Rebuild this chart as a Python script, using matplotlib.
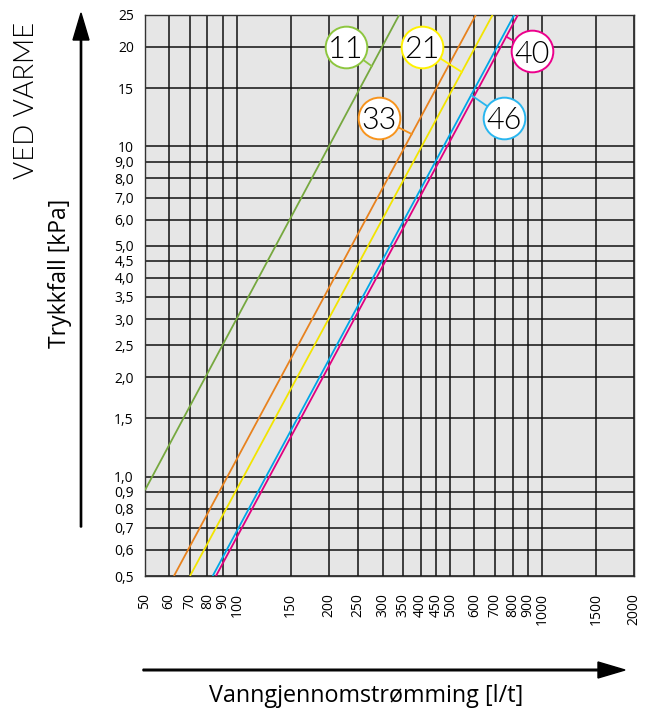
import numpy as np
import matplotlib
matplotlib.use("Agg")
import matplotlib.pyplot as plt
from matplotlib.ticker import FixedLocator, NullLocator

# ---- data ----
x_ticks = [50, 60, 70, 80, 90, 100, 150, 200, 250, 300, 350, 400, 450, 500,
           600, 700, 800, 900, 1000, 1500, 2000]
y_ticks = [0.5, 0.6, 0.7, 0.8, 0.9, 1.0, 1.5, 2.0, 2.5, 3.0, 3.5, 4.0, 4.5,
           5.0, 6.0, 7.0, 8.0, 9.0, 10, 15, 20, 25]
y_tick_labels = ["0,5", "0,6", "0,7", "0,8", "0,9", "1,0", "1,5", "2,0", "2,5",
                 "3,0", "3,5", "4,0", "4,5", "5,0", "6,0", "7,0", "8,0", "9,0",
                 "10", "15", "20", "25"]

series_names = ["11", "33", "21", "46", "40"]
# flow [l/t] and pressure drop [kPa] (two points per straight log-log line)
flow_11 = [50, 340];   dp_11 = [0.91, 25]
flow_33 = [62.2, 606]; dp_33 = [0.5, 25]
flow_21 = [70.2, 688]; dp_21 = [0.5, 25]
flow_46 = [83.3, 810]; dp_46 = [0.5, 25]
flow_40 = [85.4, 833]; dp_40 = [0.5, 25]

# ---- styles / positions ----
line_colors = {"11": "#76a83f", "33": "#e8821e", "21": "#f2e400",
               "46": "#00a6e6", "40": "#e0007f"}
ring_colors = {"11": "#8dc63f", "33": "#f7941d", "21": "#fff200",
               "46": "#29b6ef", "40": "#ec008c"}
label_pos = {"11": (227, 20.0), "33": (293, 12.2), "21": (405, 20.0),
             "46": (752, 12.2), "40": (925, 19.4)}
leader_dp = {"11": 17.5, "33": 10.9, "21": 16.8, "46": 14.3, "40": 21.5}

series = {"11": (flow_11, dp_11), "33": (flow_33, dp_33), "21": (flow_21, dp_21),
          "46": (flow_46, dp_46), "40": (flow_40, dp_40)}

THIN = dict(family=["Lato", "DejaVu Sans"], fontweight=300)

fig = plt.figure(figsize=(6.51, 7.11), dpi=100)
ax = fig.add_axes([145/651, 1-576/711, 489/651, 561/711])
ax.set_xscale("log")
ax.set_yscale("log")
ax.set_xlim(50, 2000)
ax.set_ylim(0.5, 25)
ax.set_facecolor("#e6e6e6")

ax.xaxis.set_major_locator(FixedLocator(x_ticks))
ax.xaxis.set_minor_locator(NullLocator())
ax.yaxis.set_major_locator(FixedLocator(y_ticks))
ax.yaxis.set_minor_locator(NullLocator())
ax.set_xticklabels([str(v) for v in x_ticks], rotation=90, fontsize=10,
                   family="Open Sans", va="top")
ax.set_yticklabels(y_tick_labels, fontsize=10, family="Open Sans")
ax.tick_params(axis="both", length=0, pad=8)
ax.tick_params(axis="x", pad=12)
ax.grid(True, which="major", color="#111111", linewidth=1.1)
ax.set_axisbelow(True)
for s in ax.spines.values():
    s.set_color("#333333")
    s.set_linewidth(1.0)

def flow_at(name, dp):
    f, d = series[name]
    lf, ld = np.log10(f), np.log10(d)
    t = (np.log10(dp) - ld[0]) / (ld[1] - ld[0])
    return 10 ** (lf[0] + t * (lf[1] - lf[0]))

for name in series_names:
    f, d = series[name]
    ax.plot(f, d, color=line_colors[name], lw=1.3, zorder=3, solid_capstyle="butt")

for name in series_names:
    cx, cy = label_pos[name]
    ty = leader_dp[name]
    tx = flow_at(name, ty)
    ax.plot([cx, tx], [cy, ty], color=ring_colors[name], lw=1.3, zorder=4)
    ax.scatter([cx], [cy], s=900, facecolor="white", edgecolor=ring_colors[name],
               linewidth=1.4, zorder=5)
    ax.text(cx, cy, name, ha="center", va="center_baseline", fontsize=22,
            color="#000000", zorder=6, **THIN)

# axis titles and arrows
fig.text(27/651, 1-100/711, "VED VARME", rotation=90, ha="center", va="center",
         fontsize=20, color="#000000", **THIN)
fig.text(60/651, 1-273/711, "Trykkfall [kPa]", rotation=90, ha="center", va="center",
         fontsize=16.5, family="Open Sans", color="#000000")
fig.text(366/651, 1-696/711, "Vanngjennomstrømming [l/t]", ha="center", va="center",
         fontsize=16.8, family="Open Sans", color="#000000")

fig.patches.append(matplotlib.patches.FancyArrow(
    81/651, 1-527/711, 0, (527-13)/711, width=1.4/711, head_width=16/651,
    head_length=27/711, length_includes_head=True, color="black",
    transform=fig.transFigure, figure=fig))
fig.patches.append(matplotlib.patches.FancyArrow(
    143/651, 1-670/711, (625-143)/651, 0, width=1.6/711, head_width=16/711,
    head_length=27/651, length_includes_head=True, color="black",
    transform=fig.transFigure, figure=fig))

fig.savefig("out.png", dpi=100, facecolor="white")
